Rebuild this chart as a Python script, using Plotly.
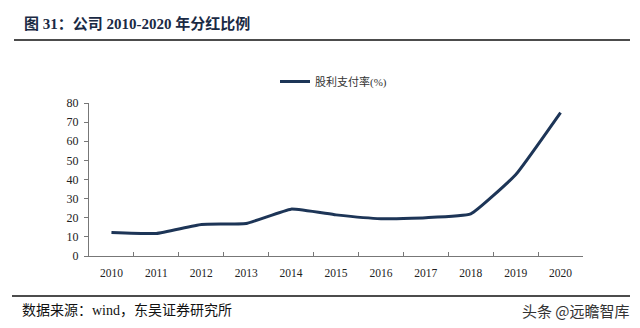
import plotly.graph_objects as go

years = ["2010", "2011", "2012", "2013", "2014", "2015", "2016", "2017", "2018", "2019", "2020"]
payout = [12.3, 11.8, 16.5, 17.0, 24.5, 21.5, 19.5, 20.0, 22.0, 42.5, 75.0]
y_ticks = [0, 10, 20, 30, 40, 50, 60, 70, 80]

W, H = 640, 328
L, R, T, B = 89, 57, 103, 72
pw, ph = W - L - R, H - T - B

def px(x):
    return (x - L) / pw

def py(y):
    return 1 - (y - T) / ph

SERIF = "Liberation Serif, Times New Roman, Noto Sans CJK SC, serif"

fig = go.Figure()
fig.add_trace(go.Scatter(
    x=years, y=payout, mode="lines", name="股利支付率(%)",
    line=dict(color="#1d3557", width=3, shape="spline", smoothing=0.35),
))

fig.update_layout(
    width=W, height=H,
    margin=dict(l=L, r=R, t=T, b=B),
    paper_bgcolor="white", plot_bgcolor="white",
    showlegend=True,
    legend=dict(orientation="h", x=px(275), y=py(67), xanchor="left", yanchor="top",
                font=dict(family=SERIF, size=11, color="#333"),
                itemwidth=30, bgcolor="rgba(0,0,0,0)"),
    xaxis=dict(type="category", range=[-0.5, len(years) - 0.5], showgrid=False, showline=True,
               linecolor="#777", linewidth=1,
               ticks="inside", ticklen=4, tickcolor="#777", tickson="boundaries",
               ticklabelstandoff=6,
               tickfont=dict(family=SERIF, size=11.5, color="#222"), zeroline=False),
    yaxis=dict(range=[0, 80], tickvals=y_ticks, showgrid=False, showline=True, linecolor="#777",
               linewidth=1, ticks="outside", ticklen=4, tickcolor="#777",
               ticklabelstandoff=3,
               tickfont=dict(family=SERIF, size=12, color="#222"), zeroline=False),
    shapes=[
        dict(type="line", xref="paper", yref="paper", x0=px(14), x1=px(630), y0=py(40), y1=py(40),
             line=dict(color="#111", width=1.5)),
        dict(type="line", xref="paper", yref="paper", x0=px(12), x1=px(630), y0=py(296), y1=py(296),
             line=dict(color="#111", width=1.5)),
    ],
    annotations=[
        dict(text="<b>图 31：公司 2010-2020 年分红比例</b>", xref="paper", yref="paper",
             x=px(22), y=py(23), xanchor="left", yanchor="middle", showarrow=False,
             font=dict(family=SERIF, size=15, color="#1a2a44")),
        dict(text="数据来源：wind，东吴证券研究所", xref="paper", yref="paper",
             x=px(20), y=py(310), xanchor="left", yanchor="middle", showarrow=False,
             font=dict(family=SERIF, size=14, color="#111")),
        dict(text="头条 @远瞻智库", xref="paper", yref="paper",
             x=px(632), y=py(310), xanchor="right", yanchor="middle", showarrow=False,
             font=dict(family="Noto Sans CJK SC, sans-serif", size=15, color="#333")),
    ],
)

fig.write_html("out.html")
